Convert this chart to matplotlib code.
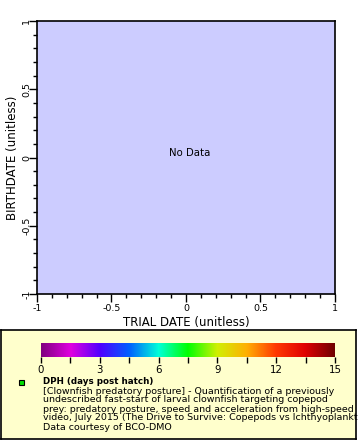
import numpy as np
import matplotlib
matplotlib.use("Agg")
import matplotlib.pyplot as plt
from matplotlib.colors import LinearSegmentedColormap
from matplotlib.patches import Rectangle
from matplotlib.ticker import MultipleLocator

# axis ranges / ticks
x_label = "TRIAL DATE (unitless)"
y_label = "BIRTHDATE (unitless)"
x_ticks = [-1, -0.5, 0, 0.5, 1]
x_ticklabels = ["-1", "-0.5", "0", "0.5", "1"]
y_ticks = [-1, -0.5, 0, 0.5, 1]
y_ticklabels = ["-1", "-0.5", "0", "0.5", "1"]
no_data_text = "No Data"

# colour bar
cbar_min, cbar_max = 0, 15
cbar_ticks = [0, 3, 6, 9, 12, 15]
cbar_colors = ["#800080", "#e000e0", "#5000ff", "#0060ff", "#00ffd8",
               "#00ff00", "#d0f000", "#ffb000", "#ff3800", "#e00000", "#700000"]

legend_title = "DPH (days post hatch)"
# last visible characters as in the (clipped) original legend
legend_lines = [
    "[Clownfish predatory posture] - Quantification of a previously",
    "undescribed fast-start of larval clownfish targeting copepod",
    "prey: predatory posture, speed and acceleration from high-speed",
    "video, July 2015 (The Drive to Survive: Copepods vs Ichthyoplankt",
    "Data courtesy of BCO-DMO",
]
marker_color = "#00e000"

W, H = 360, 440
fig = plt.figure(figsize=(W / 100, H / 100), dpi=100)
plt.rcParams['font.family'] = ['DejaVu Sans']


def box(x0, y0, x1, y1):
    # pixel coords (top-left origin) -> figure fraction rect
    return [x0 / W, 1 - y1 / H, (x1 - x0) / W, (y1 - y0) / H]


# main plot
ax = fig.add_axes(box(37, 21, 335, 294))
ax.set_facecolor("#ccccff")
ax.set_xlim(-1, 1)
ax.set_ylim(-1, 1)
ax.set_xticks(x_ticks)
ax.set_xticklabels(x_ticklabels)
ax.set_yticks(y_ticks)
ax.set_yticklabels(y_ticklabels, rotation=90, va="center")
ax.xaxis.set_minor_locator(MultipleLocator(0.1))
ax.yaxis.set_minor_locator(MultipleLocator(0.1))
ax.tick_params(which="major", length=5.5, width=1, labelsize=6.8)
ax.tick_params(axis="x", which="major", pad=1.5)
ax.tick_params(axis="y", which="major", pad=-1.3)
ax.tick_params(which="minor", length=3, width=1)
for s in ax.spines.values():
    s.set_linewidth(1.2)
ax.set_xlabel(x_label, fontsize=8.5, labelpad=2)
ax.set_ylabel(y_label, fontsize=8.5, labelpad=2.5)
ax.text(0.027, 0.033, no_data_text, ha="center", va="center", fontsize=7.3)

# legend box
lax = fig.add_axes(box(1, 330, 356, 439))
lax.set_xlim(0, 355)
lax.set_ylim(109, 0)
lax.set_facecolor("#ffffcc")
lax.set_xticks([])
lax.set_yticks([])
for s in lax.spines.values():
    s.set_linewidth(1.2)

# colour bar
cmap = LinearSegmentedColormap.from_list("ferret_rainbow", cbar_colors)
cax = fig.add_axes(box(41, 343, 335, 357))
grad = np.linspace(cbar_min, cbar_max, 256).reshape(1, -1)
cax.imshow(grad, aspect="auto", cmap=cmap,
           extent=[cbar_min, cbar_max, 0, 1], vmin=cbar_min, vmax=cbar_max)
cax.set_xlim(cbar_min, cbar_max)
cax.set_yticks([])
cax.set_xticks(cbar_ticks)
cax.xaxis.set_minor_locator(MultipleLocator(1.5))
cax.tick_params(which="both", length=4, width=1, labelsize=7.4, pad=2)
for s in cax.spines.values():
    s.set_visible(False)

# marker + legend text
lax.add_patch(Rectangle((18, 50), 5, 5, facecolor=marker_color,
                        edgecolor="black", linewidth=0.8))
lax.text(41.7, 53.5, legend_title, fontsize=6.3, fontweight="bold",
         va="baseline", ha="left")
lax.text(41.7, 56.5, "\n".join(legend_lines), fontsize=6.8, va="top",
         ha="left", linespacing=1.0)

fig.savefig("out.png", dpi=100)
